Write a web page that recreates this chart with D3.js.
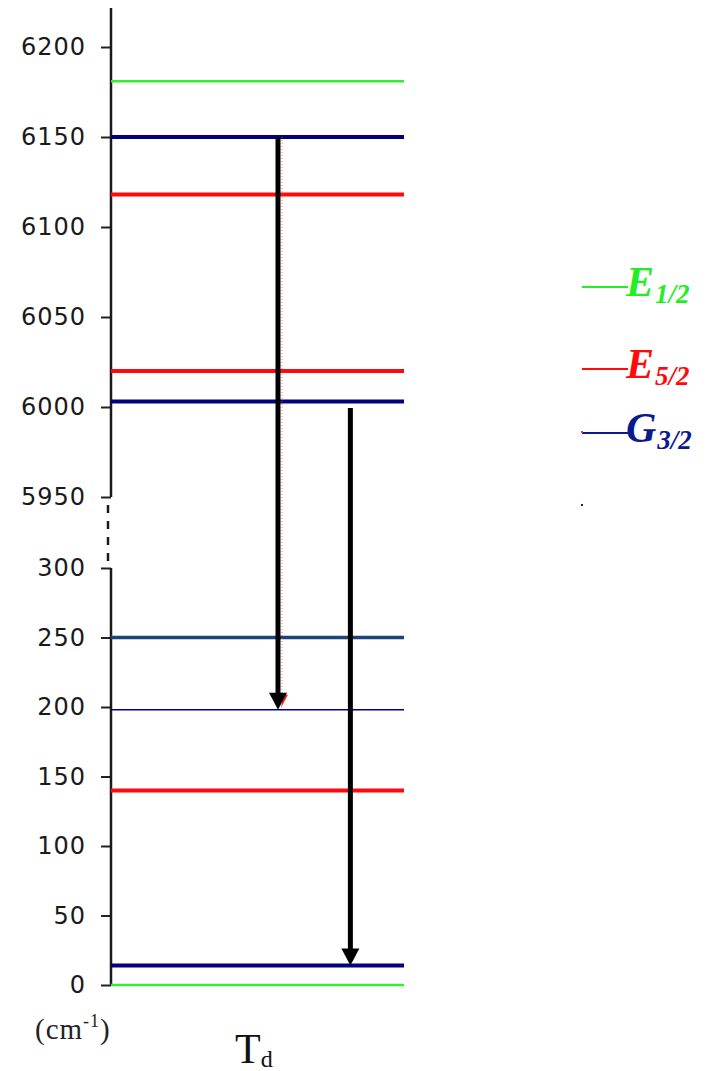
<!DOCTYPE html>
<html>
<head>
<meta charset="utf-8">
<script src="https://cdn.jsdelivr.net/npm/d3@7"></script>
<style>
  html, body { margin: 0; padding: 0; background: #fff; }
  svg { display: block; }
</style>
</head>
<body>
<div id="chart"></div>
<script>
// ---- data ----
const tickValues = [6200, 6150, 6100, 6050, 6000, 5950, 300, 250, 200, 150, 100, 50, 0];
const levelEnergies = [6181, 6150, 6118, 6020, 6003, 250, 198, 140, 14, 0];
const levelIrreps   = ["E1/2", "G3/2", "E5/2", "E5/2", "G3/2", "G3/2b", "G3/2t", "E5/2", "G3/2", "E1/2"];
const legendIrreps  = ["E1/2", "E5/2", "G3/2"];
const legendMain    = ["E", "E", "G"];
const legendSub     = ["1/2", "5/2", "3/2"];
const transitionFrom = [6150, 6000];
const transitionTo   = [198, 14];

// ---- styles ----
const colorOf = {
  "E1/2": "#33ee33", "E5/2": "#ff0a0a", "G3/2": "#000080",
  "G3/2b": "#1a4576", "G3/2t": "#00008c"
};
const widthOf = { "E1/2": 2.5, "E5/2": 4, "G3/2": 4, "G3/2b": 3.5, "G3/2t": 1.6 };
const legendColor = { "E1/2": "#22ee22", "E5/2": "#ff0a0a", "G3/2": "#0a1a8c" };

const W = 712, H = 1071;
const svg = d3.select("#chart").append("svg").attr("width", W).attr("height", H);
svg.append("rect").attr("width", W).attr("height", H).attr("fill", "#fff");

// broken (polylinear) energy scale
const y = d3.scaleLinear()
  .domain([0, 300, 5950, 6200])
  .range([985, 568, 497, 47]);
const x = d3.scaleLinear().domain([0, 1]).range([111, 404]);

// axis ticks + labels
const axis = d3.axisLeft(y).tickValues(tickValues).tickSize(10).tickPadding(15).tickFormat(d3.format("d"));
const gAxis = svg.append("g").attr("transform", `translate(${x(0)},0)`).call(axis);
gAxis.select(".domain").remove();
gAxis.selectAll(".tick line").attr("stroke", "#222").attr("stroke-width", 2);
gAxis.selectAll(".tick text")
  .attr("fill", "#1a1a1a")
  .style("font-family", "'DejaVu Sans', sans-serif")
  .style("font-size", "24px")
  .style("letter-spacing", "1px");

// axis line (with break)
svg.append("line").attr("x1", x(0)).attr("x2", x(0))
  .attr("y1", 8).attr("y2", y(5950)).attr("stroke", "#1a1a1a").attr("stroke-width", 2.5);
svg.append("line").attr("x1", x(0) - 3).attr("x2", x(0) - 3)
  .attr("y1", y(5950) + 8).attr("y2", y(300) - 4)
  .attr("stroke", "#1a1a1a").attr("stroke-width", 2.5).attr("stroke-dasharray", "8,8");
svg.append("line").attr("x1", x(0)).attr("x2", x(0))
  .attr("y1", y(300)).attr("y2", y(0)).attr("stroke", "#1a1a1a").attr("stroke-width", 2.5);

// energy levels
svg.append("g").selectAll("line.level")
  .data(levelEnergies.map((e, i) => ({ e, irr: levelIrreps[i] })))
  .join("line")
  .attr("class", "level")
  .attr("x1", x(0)).attr("x2", x(1))
  .attr("y1", d => y(d.e)).attr("y2", d => y(d.e))
  .attr("stroke", d => colorOf[d.irr])
  .attr("stroke-width", d => widthOf[d.irr]);

// transitions (arrows)
const arrowX = [0.57, 0.817];
transitionFrom.forEach((f, i) => {
  const ax = x(arrowX[i]);
  const y0 = y(f) + (i === 0 ? 0 : 1);
  const y1 = y(transitionTo[i]);
  const headH = 17, headW = 9;
  if (i === 0) {
    svg.append("line").attr("x1", ax + 4).attr("x2", ax + 4)
      .attr("y1", y0).attr("y2", y1 - 8)
      .attr("stroke", "#ff4444").attr("stroke-width", 1.2)
      .attr("stroke-dasharray", "1,2").attr("opacity", 0.6);
    svg.append("path")
      .attr("d", `M${ax + 3},${y1 - 2} L${ax + 10},${y1 - headH + 2} L${ax + 5},${y1 - headH + 2} Z`)
      .attr("fill", "#ff2222");
  }
  svg.append("line").attr("x1", ax).attr("x2", ax)
    .attr("y1", y0).attr("y2", y1 - headH + 2)
    .attr("stroke", "#000").attr("stroke-width", 5);
  svg.append("path")
    .attr("d", `M${ax - headW},${y1 - headH} L${ax + headW},${y1 - headH} L${ax},${y1} Z`)
    .attr("fill", "#000");
});

// legend
const legendY = [287, 369, 433];
const lg = svg.append("g");
legendIrreps.forEach((irr, i) => {
  const ly = legendY[i];
  lg.append("line").attr("x1", 582).attr("x2", 628)
    .attr("y1", ly).attr("y2", ly)
    .attr("stroke", legendColor[irr]).attr("stroke-width", 2);
  const t = lg.append("text")
    .attr("x", 626).attr("y", ly + 9)
    .attr("fill", legendColor[irr])
    .style("font-family", "'Liberation Serif', 'Times New Roman', serif")
    .style("font-weight", "bold").style("font-style", "italic");
  t.append("tspan").style("font-size", "42px").text(legendMain[i]);
  t.append("tspan").attr("dy", 7).attr("dx", 1).style("font-size", "27px").text(legendSub[i]);
});
lg.append("rect").attr("x", 581).attr("y", 504).attr("width", 2).attr("height", 2).attr("fill", "#0a1a8c");
lg.append("rect").attr("x", 581).attr("y", 431).attr("width", 2).attr("height", 2).attr("fill", "#ff3333");

// unit label
const unit = svg.append("text").attr("x", 35).attr("y", 1039)
  .attr("fill", "#222")
  .style("font-family", "'Liberation Serif', 'Times New Roman', serif")
  .style("font-size", "29px")
  .style("letter-spacing", "1px");
unit.append("tspan").text("(cm");
unit.append("tspan").attr("dy", -12).style("font-size", "18px").text("-1");
unit.append("tspan").attr("dy", 12).text(")");

// symmetry label
const td = svg.append("text").attr("x", 235).attr("y", 1063)
  .attr("fill", "#111")
  .style("font-family", "'Liberation Serif', 'Times New Roman', serif");
td.append("tspan").style("font-size", "42px").text("T");
td.append("tspan").attr("dy", 4).style("font-size", "24px").text("d");
</script>
</body>
</html>
